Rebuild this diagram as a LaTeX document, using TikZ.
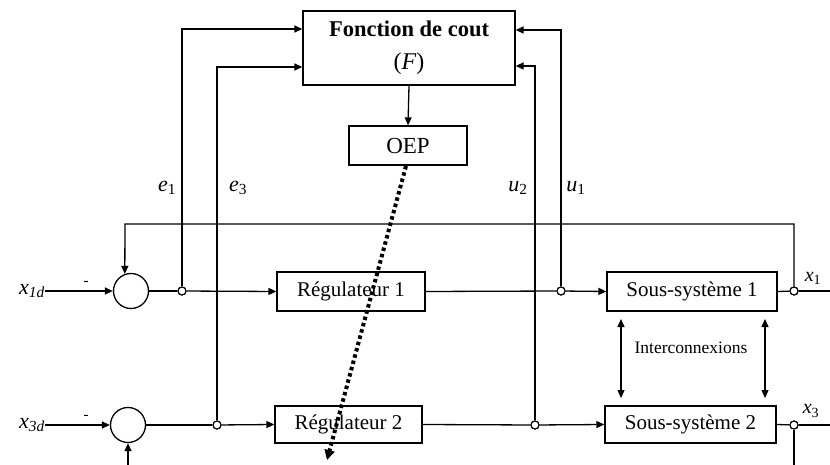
\documentclass[tikz,border=0pt]{standalone}
\usepackage{fontspec}
\setmainfont{Liberation Serif}
\usetikzlibrary{arrows.meta,calc}
\begin{document}
\begin{tikzpicture}[x=1pt,y=-1pt,
  ln/.style={line width=1.3pt},
  arr/.style={ln,-{Triangle[length=8pt,width=7pt]}},
  darr/.style={ln,{Triangle[length=8pt,width=7pt]}-{Triangle[length=8pt,width=7pt]}},
  blk/.style={draw,line width=1.3pt,rectangle,inner sep=0pt,font=\fontsize{21}{24}\selectfont},
  junc/.style={draw,circle,line width=1.1pt,fill=white,inner sep=0pt,minimum size=8pt},
  sumc/.style={draw,circle,line width=1.3pt,inner sep=0pt,minimum size=35pt},
  lab/.style={inner sep=0pt,font=\fontsize{22}{24}\selectfont},
  minus/.style={inner sep=0pt,font=\fontsize{15}{16}\selectfont}
]
\useasboundingbox (0,0) rectangle (830,465);
% boxes
\node[blk,minimum width=212pt,minimum height=74pt,align=center,font=\fontsize{22.5}{33}\selectfont] (F) at (409,48) {\textbf{Fonction de cout}\\{\fontsize{24}{33}\selectfont(\textit{F})}};
\node[blk,minimum width=118pt,minimum height=39pt,font=\fontsize{23}{26}\selectfont] (oep) at (408,145.5) {OEP};
\node[blk,minimum width=148pt,minimum height=39pt] (r1) at (351,291.5) {Régulateur 1};
\node[blk,minimum width=147pt,minimum height=37pt] (r2) at (348.5,424.5) {Régulateur 2};
\node[blk,minimum width=170pt,minimum height=39pt] (s1) at (692,291.5) {Sous-système 1};
\node[blk,minimum width=171pt,minimum height=37pt] (s2) at (690.5,424.5) {Sous-système 2};
% summing circles
\node[sumc] (sum1) at (131,291) {};
\node[sumc] (sum2) at (128,425) {};
% junctions
\node[junc] (j1) at (182,291) {};
\node[junc] (j3) at (217,425) {};
\node[junc] (ju1) at (561,291) {};
\node[junc] (ju2) at (535,425) {};
\node[junc] (jx1) at (794,291) {};
\node[junc] (jx3) at (794,425) {};
% labels
\node[lab,anchor=west] (x1d) at (19,291) {\textit{x}\textsubscript{\textit{1d}}};
\node[lab,anchor=west] (x3d) at (19,425) {\textit{x}\textsubscript{\textit{3d}}};
\node[minus] (m1) at (86,283) {-};
\node[minus] (m3) at (86,417) {-};
\node[lab] (le1) at (167,188) {\textit{e}\textsubscript{1}};
\node[lab] (le3) at (238,188) {\textit{e}\textsubscript{3}};
\node[lab] (lu2) at (518,188) {\textit{u}\textsubscript{2}};
\node[lab] (lu1) at (576,188) {\textit{u}\textsubscript{1}};
\node[lab,font=\fontsize{20}{22}\selectfont] (lx1) at (813,278) {\textit{x}\textsubscript{1}};
\node[lab,font=\fontsize{20}{22}\selectfont] (lx3) at (811,411) {\textit{x}\textsubscript{3}};
\node[inner sep=0pt,font=\fontsize{17.5}{19}\selectfont] (inter) at (691,348) {Interconnexions};
% coordinates
\coordinate (fb) at (125,224);
\coordinate (out1) at (830,291);
\coordinate (out3) at (830,425);
\coordinate (bot3) at (794,465);
\coordinate (bot2) at (128,465);
\coordinate (tip) at (327,460);
\coordinate (dstart) at (406,166);
% row 1
\draw[arr] (x1d.east) -- (sum1.west);
\draw[ln] (sum1.east) -- (j1);
\draw[arr] (j1) -- (r1.west);
\draw[ln] (r1.east) -- (ju1);
\draw[arr] (ju1) -- (s1.west);
\draw[ln] (s1.east) -- (jx1);
\draw[ln] (jx1) -- (out1);
\draw[arr] (jx1) |- (fb) -- (sum1.110);
% row 2
\draw[arr] (x3d.east) -- (sum2.west);
\draw[ln] (sum2.east) -- (j3);
\draw[arr] (j3) -- (r2.west);
\draw[ln] (r2.east) -- (ju2);
\draw[arr] (ju2) -- (s2.west);
\draw[ln] (s2.east) -- (jx3);
\draw[ln] (jx3) -- (out3);
\draw[ln] (jx3) -- (bot3);
\draw[arr] (bot2) -- (sum2.south);
% to cost function
\draw[arr] (j1) |- ([yshift=19pt]F.west);
\draw[arr] (j3) |- ([yshift=-19pt]F.west);
\draw[arr] (ju1) |- ([yshift=18pt]F.east);
\draw[arr] (ju2) |- ([yshift=-18pt]F.east);
\draw[arr] (F.south) -- (oep.north);
% interconnexions
\draw[darr] (621,319) -- (621,398);
\draw[darr] (765,319) -- (765,398);
% dotted
\draw[line width=4pt,dash pattern=on 3.5pt off 3pt,-{Triangle[length=10pt,width=10pt]}] (dstart) -- (tip);
% redraw junctions on top
\foreach \j in {j1,j3,ju1,ju2,jx1,jx3} \node[junc] at (\j) {};
\end{tikzpicture}
\end{document}
